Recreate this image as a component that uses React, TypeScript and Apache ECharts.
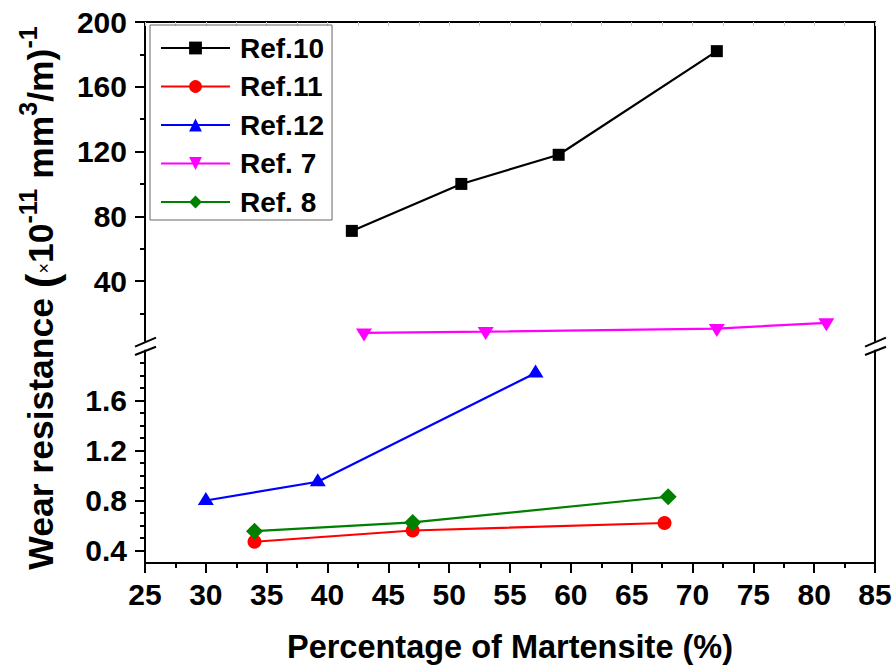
import React, { useEffect, useRef } from 'react';
import * as echarts from 'echarts';

const FONT = '"Liberation Sans", Arial, Helvetica, sans-serif';

// ---- data ----
const ref10X = [42, 51, 59, 72];
const ref10Y = [71, 100, 118, 182];
const ref7X = [43, 53, 72, 81];
const ref7Y = [8, 8.8, 10.7, 14.2];
const ref11X = [34, 47, 67.7];
const ref11Y = [0.47, 0.56, 0.62];
const ref12X = [30, 39.2, 57.1];
const ref12Y = [0.8, 0.95, 1.82];
const ref8X = [34, 47, 68];
const ref8Y = [0.555, 0.625, 0.83];

const upperMajorTicks = [40, 80, 120, 160, 200];
const upperMinorTicks = [20, 60, 100, 140, 180];
const lowerMajorTicks = [0.4, 0.8, 1.2, 1.6];
const lowerMinorTicks = [0.5, 0.6, 0.7, 0.9, 1.0, 1.1, 1.3, 1.4, 1.5, 1.7, 1.8, 1.9];
const upperRange = [3, 200];
const lowerRange = [0.3, 2.0];
const xRange = [25, 85];

const zip = (xs: number[], ys: number[]) => xs.map((x, i) => [x, ys[i]]);

const LEFT = 145;
const RIGHT_X = 875;
const UP_TOP = 22;
const UP_BOTTOM = 341;
const LOW_TOP = 350.5;
const LOW_BOTTOM = 563;
const LW = 2.2;

const breakMarks = (cx: number) => [
  { type: 'line', z: 100, shape: { x1: cx - 10, y1: 346.7, x2: cx + 11, y2: 337.7 }, style: { stroke: '#000', lineWidth: 2 } },
  { type: 'line', z: 100, shape: { x1: cx - 10, y1: 355, x2: cx + 11, y2: 346.7 }, style: { stroke: '#000', lineWidth: 2 } },
];

const labelStyle = { fontSize: 30, fontWeight: 'bold', color: '#000', fontFamily: FONT };

const option: any = {
  animation: false,
  backgroundColor: '#fff',
  grid: [
    { left: LEFT, top: UP_TOP, width: RIGHT_X - LEFT, height: UP_BOTTOM - UP_TOP },
    { left: LEFT, top: LOW_TOP, width: RIGHT_X - LEFT, height: LOW_BOTTOM - LOW_TOP },
  ],
  xAxis: [
    {
      gridIndex: 0, type: 'value', position: 'top', min: xRange[0], max: xRange[1], interval: 2.5,
      axisLine: { show: true, lineStyle: { color: '#000', width: 2 } },
      axisTick: { show: true, inside: true, length: 4, lineStyle: { color: '#c8c8c8', width: 1 } },
      axisLabel: { show: false }, splitLine: { show: false },
    },
    {
      gridIndex: 1, type: 'value', position: 'bottom', min: xRange[0], max: xRange[1], interval: 5,
      axisLine: { show: true, onZero: false, lineStyle: { color: '#000', width: 2 } },
      axisTick: { show: true, length: 10, lineStyle: { color: '#000', width: 2 } },
      minorTick: { show: true, splitNumber: 2, length: 5, lineStyle: { color: '#000', width: 2 } },
      axisLabel: { ...labelStyle, margin: 16 },
      splitLine: { show: false },
      name: 'Percentage of Martensite (%)', nameLocation: 'middle', nameGap: 67,
      nameTextStyle: { fontSize: 32.5, fontWeight: 'bold', color: '#000', fontFamily: FONT },
    },
  ],
  yAxis: [
    {
      gridIndex: 0, type: 'value', position: 'left', min: upperRange[0], max: upperRange[1],
      axisLine: { show: true, onZero: false, lineStyle: { color: '#000', width: 2 } },
      axisTick: { show: true, length: 10, customValues: upperMajorTicks, lineStyle: { color: '#000', width: 2 } },
      axisLabel: { ...labelStyle, margin: 18, customValues: upperMajorTicks },
      splitLine: { show: false },
    },
    {
      gridIndex: 0, type: 'value', position: 'left', min: upperRange[0], max: upperRange[1],
      axisLine: { show: false },
      axisTick: { show: true, length: 5, customValues: upperMinorTicks, lineStyle: { color: '#000', width: 2 } },
      axisLabel: { show: false }, splitLine: { show: false },
    },
    {
      gridIndex: 0, type: 'value', position: 'right', min: upperRange[0], max: upperRange[1],
      axisLine: { show: true, onZero: false, lineStyle: { color: '#000', width: 2 } },
      axisTick: { show: false }, axisLabel: { show: false }, splitLine: { show: false },
    },
    {
      gridIndex: 1, type: 'value', position: 'left', min: lowerRange[0], max: lowerRange[1],
      axisLine: { show: true, onZero: false, lineStyle: { color: '#000', width: 2 } },
      axisTick: { show: true, length: 10, customValues: lowerMajorTicks, lineStyle: { color: '#000', width: 2 } },
      axisLabel: { ...labelStyle, margin: 18, customValues: lowerMajorTicks, formatter: (v: number) => v.toFixed(1) },
      splitLine: { show: false },
    },
    {
      gridIndex: 1, type: 'value', position: 'left', min: lowerRange[0], max: lowerRange[1],
      axisLine: { show: false },
      axisTick: { show: true, length: 5, customValues: lowerMinorTicks, lineStyle: { color: '#000', width: 2 } },
      axisLabel: { show: false }, splitLine: { show: false },
    },
    {
      gridIndex: 1, type: 'value', position: 'right', min: lowerRange[0], max: lowerRange[1],
      axisLine: { show: true, onZero: false, lineStyle: { color: '#000', width: 2 } },
      axisTick: { show: false }, axisLabel: { show: false }, splitLine: { show: false },
    },
  ],
  legend: {
    orient: 'vertical', left: 150, top: 25,
    padding: [9, 8, 4, 10],
    itemWidth: 69, itemHeight: 16, itemGap: 10.5,
    borderColor: '#666', borderWidth: 1,
    textStyle: { fontSize: 28, fontWeight: 'bold', color: '#000', fontFamily: FONT, lineHeight: 28, padding: [0, 0, 0, 5] },
    data: ['Ref.10', 'Ref.11', 'Ref.12', 'Ref. 7', 'Ref. 8'],
  },
  graphic: [
    ...breakMarks(LEFT),
    ...breakMarks(RIGHT_X),
    {
      type: 'text', x: 41, y: 298, rotation: Math.PI / 2, z: 100,
      style: {
        text: '{a|Wear resistance }{p|(}{x|×}{a|10}{s|-11}{a| mm}{s|3}{a|/m)}{s|-1}',
        align: 'center', verticalAlign: 'middle', fill: '#000',
        rich: {
          a: { fontSize: 35.5, fontWeight: 'bold', fontFamily: FONT, lineHeight: 52, verticalAlign: 'middle', fill: '#000' },
          p: { fontSize: 44, fontWeight: 'bold', fontFamily: FONT, verticalAlign: 'middle', fill: '#000' },
          x: { fontSize: 18, fontFamily: FONT, verticalAlign: 'middle', padding: [6, 0, 0, 0], fill: '#000' },
          s: { fontSize: 25, fontWeight: 'bold', fontFamily: FONT, verticalAlign: 'top', fill: '#000' },
        },
      },
    },
  ],
  series: [
    {
      name: 'Ref.10', type: 'line', xAxisIndex: 0, yAxisIndex: 0, data: zip(ref10X, ref10Y),
      symbol: 'rect', symbolSize: 12, color: '#000', lineStyle: { width: LW, color: '#000' }, clip: false,
    },
    {
      name: 'Ref.11', type: 'line', xAxisIndex: 1, yAxisIndex: 3, data: zip(ref11X, ref11Y),
      symbol: 'circle', symbolSize: 14, color: '#ff0000', lineStyle: { width: LW, color: '#ff0000' }, clip: false,
    },
    {
      name: 'Ref.12', type: 'line', xAxisIndex: 1, yAxisIndex: 3, data: zip(ref12X, ref12Y),
      symbol: 'triangle', symbolSize: [16, 13], symbolOffset: [0, -2], color: '#0000ff',
      lineStyle: { width: LW, color: '#0000ff' }, clip: false,
    },
    {
      name: 'Ref. 7', type: 'line', xAxisIndex: 0, yAxisIndex: 0, data: zip(ref7X, ref7Y),
      symbol: 'triangle', symbolRotate: 180, symbolSize: [16, 13], symbolOffset: [0, 2], color: '#ff00ff',
      lineStyle: { width: LW, color: '#ff00ff' }, clip: false,
    },
    {
      name: 'Ref. 8', type: 'line', xAxisIndex: 1, yAxisIndex: 3, data: zip(ref8X, ref8Y),
      symbol: 'diamond', symbolSize: 17, color: '#008000', lineStyle: { width: LW, color: '#008000' }, clip: false,
    },
  ],
};

export default function App() {
  const ref = useRef<HTMLDivElement>(null);
  useEffect(() => {
    document.body.style.margin = '0';
    const chart = echarts.init(ref.current!, undefined, { renderer: 'svg' });
    chart.setOption(option);
    return () => chart.dispose();
  }, []);
  return <div ref={ref} style={{ width: 895, height: 666 }} />;
}
